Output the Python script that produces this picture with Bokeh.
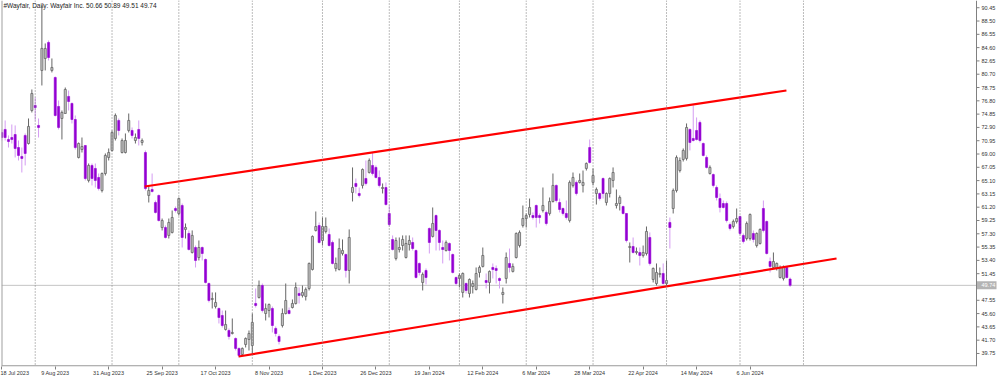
import numpy as np
import pandas as pd
from bokeh.plotting import figure
from bokeh.models import ColumnDataSource, Range1d, FixedTicker, Span, Label
from bokeh.core.properties import value
from bokeh.embed import file_html
from bokeh.resources import INLINE

# ---------------- data ----------------
first_day = "2023-07-18"
market_holidays = ["2023-09-04", "2023-11-23", "2023-12-25", "2024-01-01", "2024-01-15",
                   "2024-02-19", "2024-03-29", "2024-05-27", "2024-06-19", "2024-07-04"]

opens = [72.16, 72.60, 71.13, 71.42, 71.86, 69.95, 68.64, 71.72, 70.54, 75.38,
         76.12, 73.19, 81.25, 83.01, 85.36, 81.25, 80.22, 75.97, 74.21, 74.94,
         77.44, 76.41, 74.06, 68.49, 69.66, 70.25, 65.12, 67.32, 66.88, 65.56,
         63.65, 66.14, 68.49, 69.52, 71.28, 73.92, 69.22, 69.22, 72.45, 72.45,
         70.98, 72.60, 70.69, 69.22, 62.92, 63.80, 61.89, 62.92, 58.22, 58.22,
         57.06, 57.50, 61.01, 60.28, 61.45, 57.94, 57.35, 54.56, 55.29, 53.82,
         55.29, 53.53, 50.01, 47.67, 46.64, 46.35, 45.32, 43.27, 43.12, 42.68,
         41.95, 40.49, 39.61, 41.07, 41.80, 40.92, 47.08, 47.96, 49.72, 45.61,
         46.05, 46.35, 43.42, 42.24, 43.85, 45.61, 46.05, 46.49, 47.08, 48.55,
         48.26, 48.11, 49.28, 52.07, 57.79, 58.52, 56.32, 57.64, 57.20, 56.03,
         52.22, 52.07, 54.41, 54.26, 51.92, 63.36, 64.68, 63.21, 64.39, 65.41,
         66.29, 67.32, 67.03, 65.56, 63.94, 64.09, 60.28, 56.47, 53.68, 55.00,
         55.58, 53.82, 55.73, 56.03, 54.85, 52.95, 50.16, 51.92, 58.08, 56.91,
         59.98, 57.79, 55.29, 54.85, 55.88, 54.26, 50.89, 50.75, 48.70, 50.01,
         48.55, 49.57, 49.14, 51.63, 52.51, 50.45, 50.16, 52.36, 52.22, 50.75,
         48.40, 50.75, 52.95, 51.78, 53.82, 55.58, 58.52, 59.54, 60.13, 59.98,
         61.45, 59.98, 60.72, 60.43, 60.28, 62.04, 64.39, 61.89, 61.01, 60.28,
         59.25, 64.39, 64.83, 64.83, 64.39, 66.88, 69.95, 64.83, 63.21, 63.21,
         65.41, 61.89, 63.21, 65.12, 61.45, 61.74, 61.30, 60.28, 55.29, 55.44,
         54.56, 54.56, 54.12, 54.41, 56.76, 50.60, 50.01, 51.34, 51.48, 50.01,
         58.96, 61.01, 63.65, 66.58, 68.20, 68.35, 72.60, 71.28, 72.45, 73.63,
         70.54, 68.49, 66.14, 65.99, 64.09, 62.47, 61.74, 61.74, 58.66, 58.37,
         59.10, 59.84, 57.06, 56.61, 56.61, 57.35, 55.58, 55.88, 61.01, 59.10,
         53.24, 52.36, 52.22, 50.89, 50.75, 52.36, 50.66]

highs = [72.60, 73.92, 71.72, 73.33, 73.19, 70.98, 69.95, 72.01, 74.21, 78.46,
         77.29, 74.21, 90.78, 85.21, 85.65, 83.01, 80.37, 76.85, 75.38, 78.75,
         78.31, 76.56, 74.65, 70.69, 71.42, 70.25, 67.61, 67.61, 67.61, 66.14,
         66.29, 69.08, 69.81, 72.45, 74.94, 74.21, 71.28, 72.01, 74.94, 72.89,
         72.01, 73.92, 71.28, 69.52, 64.39, 66.14, 62.18, 63.06, 59.54, 58.52,
         59.54, 60.72, 61.30, 62.62, 61.74, 58.81, 57.79, 57.79, 55.58, 56.32,
         55.44, 53.68, 50.16, 48.70, 48.70, 46.49, 46.05, 46.05, 43.42, 44.88,
         42.10, 40.63, 40.63, 42.10, 43.12, 45.61, 49.28, 50.45, 50.01, 47.08,
         47.08, 46.64, 43.71, 42.54, 46.35, 50.01, 46.49, 47.67, 50.16, 49.43,
         49.72, 49.43, 53.09, 57.06, 60.57, 58.96, 59.69, 59.69, 58.08, 56.32,
         53.82, 56.61, 56.47, 54.41, 57.94, 67.03, 65.41, 64.09, 66.88, 68.05,
         68.35, 69.22, 67.32, 66.58, 64.68, 64.83, 61.45, 57.06, 56.76, 56.76,
         57.06, 57.06, 57.06, 56.76, 55.00, 53.09, 51.63, 52.22, 58.22, 61.16,
         60.13, 57.94, 56.32, 56.32, 56.03, 54.41, 51.04, 51.48, 51.63, 50.16,
         50.75, 50.45, 52.36, 52.65, 55.29, 51.48, 51.92, 52.95, 52.65, 50.89,
         49.43, 54.56, 55.14, 52.95, 57.50, 57.79, 61.45, 60.28, 62.47, 60.43,
         61.59, 60.28, 64.09, 60.72, 62.62, 66.14, 64.53, 62.47, 61.16, 62.18,
         65.12, 66.29, 65.12, 66.14, 66.58, 67.76, 71.13, 66.88, 64.09, 63.36,
         65.56, 63.36, 65.56, 67.03, 63.80, 62.92, 61.45, 60.28, 56.03, 56.76,
         55.29, 55.29, 55.58, 58.37, 57.50, 52.36, 52.95, 52.36, 52.95, 53.39,
         59.69, 63.94, 68.79, 68.49, 69.81, 73.48, 72.75, 76.12, 74.36, 73.92,
         70.69, 68.79, 67.32, 66.14, 64.39, 63.21, 62.18, 62.04, 58.96, 59.39,
         61.01, 59.98, 57.35, 59.10, 60.28, 57.79, 57.50, 58.08, 62.18, 59.25,
         53.82, 54.56, 53.09, 52.65, 52.65, 52.51, 50.89]

lows = [70.98, 70.98, 69.95, 70.54, 68.49, 68.05, 66.29, 67.32, 70.39, 75.09,
        73.92, 71.42, 79.05, 81.25, 82.71, 80.96, 74.50, 72.60, 71.13, 74.94,
        75.38, 73.48, 69.66, 68.35, 69.22, 65.12, 64.83, 64.39, 64.09, 63.65,
        63.36, 65.85, 68.05, 69.37, 70.98, 71.72, 69.08, 69.08, 72.16, 71.28,
        70.54, 70.25, 70.25, 63.65, 61.89, 63.36, 60.28, 59.10, 57.79, 56.61,
        56.61, 57.35, 60.43, 59.98, 55.29, 56.61, 54.85, 54.41, 52.36, 53.39,
        53.39, 50.01, 47.23, 46.35, 46.35, 44.15, 43.56, 43.12, 41.80, 42.54,
        40.19, 39.17, 39.46, 40.63, 40.19, 39.75, 46.49, 47.81, 45.76, 44.59,
        45.03, 42.83, 42.24, 41.07, 43.56, 45.47, 45.47, 46.35, 46.93, 47.08,
        47.96, 47.52, 48.99, 51.92, 57.64, 55.88, 55.58, 57.35, 55.44, 52.80,
        51.78, 51.92, 54.12, 50.89, 50.01, 62.04, 63.21, 62.62, 63.94, 64.39,
        66.14, 65.85, 65.41, 64.09, 63.21, 61.45, 58.37, 54.85, 53.39, 54.56,
        54.85, 53.68, 54.85, 54.85, 50.75, 51.19, 48.99, 49.87, 54.41, 56.76,
        54.85, 54.85, 52.95, 54.70, 53.39, 51.48, 49.72, 49.43, 47.96, 48.55,
        47.96, 48.55, 48.99, 50.89, 52.36, 49.28, 48.55, 50.75, 50.01, 49.28,
        47.08, 50.01, 51.63, 51.63, 53.68, 55.29, 58.22, 58.22, 59.69, 59.39,
        58.22, 58.81, 60.43, 58.52, 59.98, 61.89, 61.89, 60.43, 59.98, 59.39,
        58.96, 64.09, 62.92, 64.68, 63.36, 66.58, 67.61, 64.39, 61.59, 62.18,
        62.47, 61.45, 62.62, 64.09, 61.01, 60.72, 60.13, 56.03, 53.09, 54.41,
        54.26, 52.65, 53.82, 54.12, 52.65, 50.16, 49.72, 50.89, 49.87, 49.72,
        55.14, 60.28, 63.36, 66.29, 67.90, 68.05, 69.52, 70.83, 70.98, 70.69,
        68.64, 66.88, 65.99, 64.09, 62.18, 60.43, 61.01, 58.96, 57.79, 58.08,
        58.81, 57.06, 55.88, 56.32, 56.32, 56.03, 55.29, 55.73, 57.50, 54.26,
        51.63, 52.22, 51.92, 50.75, 50.45, 50.75, 49.51]

closes = [71.42, 71.42, 70.83, 71.13, 69.81, 68.79, 68.35, 69.08, 73.04, 77.87,
          75.82, 72.89, 84.48, 84.48, 83.15, 81.69, 74.65, 72.89, 75.09, 78.46,
          76.70, 74.06, 69.95, 70.54, 70.10, 65.41, 67.32, 65.41, 65.12, 63.94,
          66.14, 68.79, 69.22, 72.16, 74.65, 72.45, 70.98, 70.98, 73.92, 71.72,
          71.42, 71.28, 70.98, 63.94, 63.65, 63.51, 60.43, 59.25, 59.25, 56.76,
          58.96, 59.69, 60.72, 62.47, 56.76, 58.22, 55.00, 57.06, 53.39, 55.29,
          54.41, 50.16, 47.52, 47.81, 47.23, 45.03, 43.85, 44.00, 42.24, 42.83,
          40.49, 39.46, 40.49, 41.95, 42.68, 44.30, 46.79, 49.72, 46.05, 46.35,
          46.93, 43.85, 42.68, 41.51, 45.61, 47.52, 45.61, 47.08, 49.43, 48.26,
          48.70, 49.14, 52.95, 56.91, 58.37, 56.03, 58.37, 58.37, 55.58, 52.95,
          52.95, 55.14, 54.85, 51.92, 56.76, 64.09, 64.24, 62.92, 66.73, 64.68,
          68.05, 66.14, 65.56, 64.39, 64.09, 61.59, 58.66, 55.00, 56.32, 55.29,
          56.47, 55.88, 56.32, 55.14, 50.89, 51.63, 51.34, 50.89, 56.03, 58.81,
          57.79, 56.03, 55.00, 56.03, 54.85, 51.63, 50.01, 51.19, 51.48, 48.99,
          50.60, 50.01, 51.48, 52.36, 54.12, 50.16, 51.78, 52.07, 51.92, 50.45,
          48.70, 53.82, 52.36, 52.51, 57.35, 57.50, 59.54, 59.98, 61.16, 59.69,
          59.69, 59.69, 61.45, 58.81, 62.04, 64.39, 62.18, 60.86, 60.28, 59.69,
          64.83, 65.56, 63.21, 65.12, 64.83, 67.61, 67.76, 65.85, 63.80, 62.47,
          63.21, 63.21, 65.41, 66.29, 61.74, 62.62, 60.28, 56.32, 55.44, 54.56,
          54.70, 54.12, 54.56, 57.64, 52.95, 52.22, 51.63, 51.48, 50.01, 50.45,
          58.22, 63.65, 68.49, 68.05, 69.52, 72.89, 70.69, 70.98, 71.13, 70.98,
          68.79, 67.03, 67.03, 64.39, 62.62, 61.16, 61.16, 59.25, 58.08, 59.10,
          59.54, 57.35, 56.18, 58.81, 60.13, 56.47, 57.35, 57.94, 57.79, 54.41,
          52.51, 53.24, 52.95, 52.36, 52.36, 50.89, 49.74]

price_ticks = [39.75, 41.70, 43.65, 45.60, 47.55, 49.50, 51.45, 53.40, 55.35, 57.30,
               59.25, 61.20, 63.15, 65.10, 67.05, 69.00, 70.95, 72.90, 74.85, 76.80,
               78.75, 80.70, 82.65, 84.60, 86.55, 88.50, 90.45]
current_price = 49.74
title_text = "#Wayfair, Daily:  Wayfair Inc.  50.66 50.89 49.51 49.74"

# channel lines (bar index, price) drawn on the chart
upper_channel_x = [42.8, 234.9]
upper_channel_y = [64.24, 78.31]
lower_channel_x = [70.9, 249.9]
lower_channel_y = [39.31, 53.68]

# ---------------- derived ----------------
N = len(opens)
all_days = pd.bdate_range(first_day, periods=N + 30, freq="C", holidays=market_holidays)
dates = all_days[:N]
idx = np.arange(N)
o = np.array(opens); h = np.array(highs); l = np.array(lows); c = np.array(closes)
up = c >= o

def src(mask):
    return ColumnDataSource(dict(x=idx[mask], o=o[mask], h=h[mask], l=l[mask], c=c[mask],
                                 top=np.maximum(o, c)[mask], bottom=np.minimum(o, c)[mask]))

bull_src = src(up)
bear_src = src(~up)

month_starts = [i for i in range(1, len(all_days)) if all_days[i].month != all_days[i - 1].month]
grid_idx = [i for i in month_starts if i < N] + [min(i for i in month_starts if i >= N)]
label_idx = list(range(0, N, 16))
label_text = {i: f"{dates[i].day} {dates[i].strftime('%b %Y')}" for i in label_idx}

FONT = "Liberation Sans"
FS = "5.5px"

# layout: frame spans the full width; chart area ends at the price scale
PX = 3.3403                 # pixels per bar
X0 = -0.09                  # bar index at the left edge
AXIS_X = X0 + 975 / PX      # price-scale line (chart area is 975 px wide)
X1 = X0 + 999 / PX
Y0, Y1 = 37.84, 91.51
PY = 366 / (Y1 - Y0)        # pixels per dollar

p = figure(frame_width=999, frame_height=366,
           x_range=Range1d(X0, X1), y_range=Range1d(Y0, Y1),
           output_backend="svg", toolbar_location=None, y_axis_location=None,
           min_border_left=1, min_border_right=0, min_border_top=0, min_border_bottom=10)
p.outline_line_color = None
p.xgrid.visible = False
p.ygrid.visible = False
p.background_fill_color = "white"
p.border_fill_color = "white"

xa = p.xaxis[0]
xa.ticker = FixedTicker(ticks=label_idx)
xa.major_label_overrides = label_text
xa.minor_tick_line_color = None
xa.major_tick_in = 0
xa.major_tick_out = 3
xa.major_label_standoff = 0
xa.major_label_text_font = FONT
xa.major_label_text_font_size = FS
xa.major_label_text_color = "#333333"
xa.major_label_text_align = "left"
xa.axis_line_color = None
xa.major_tick_line_color = "#808080"

# grid / borders
for gi in grid_idx:
    p.add_layout(Span(location=gi, dimension="height", line_color="#7a7a7a",
                      line_dash="1 2", line_width=1))
p.add_layout(Span(location=X0, dimension="height", line_color="#a0a0a0", line_width=2))
p.segment(x0=[X0], y0=[current_price], x1=[AXIS_X], y1=[current_price],
          line_color="#c4c4c4", line_width=1)

# wicks
p.segment(x0="x", y0="l", x1="x", y1="h", source=bull_src, line_color="#666666", line_width=1)
p.segment(x0="x", y0="l", x1="x", y1="h", source=bear_src, line_color="#d49cf2", line_width=1)
# bodies
p.vbar(x="x", top="top", bottom="bottom", width=0.62, source=bull_src,
       fill_color="#c6c6c6", line_color="#666666", line_width=0.8)
p.vbar(x="x", top="top", bottom="bottom", width=0.62, source=bear_src,
       fill_color="#9400d3", line_color="#9400d3", line_width=0.6)

# channel
p.line(upper_channel_x, upper_channel_y, line_color="#ff0000", line_width=2.2)
p.line(lower_channel_x, lower_channel_y, line_color="#ff0000", line_width=2.2)

# bottom time-scale line and right price scale
p.segment(x0=[X0], y0=[Y0 + 0.6 / PY], x1=[AXIS_X], y1=[Y0 + 0.6 / PY],
          line_color="#808080", line_width=1)
p.segment(x0=[AXIS_X], y0=[Y0], x1=[AXIS_X], y1=[Y1], line_color="#808080", line_width=1)
tick_src = ColumnDataSource(dict(
    y=price_ticks,
    x0=[AXIS_X] * len(price_ticks),
    x1=[AXIS_X + 3 / PX] * len(price_ticks),
    tx=[AXIS_X + 5 / PX] * len(price_ticks),
    label=["" if abs(t - 49.50) < 1e-9 else f"{t:.2f}" for t in price_ticks]))
p.segment(x0="x0", y0="y", x1="x1", y1="y", source=tick_src, line_color="#808080", line_width=1)
p.text(x="tx", y="y", text="label", source=tick_src, text_font=value(FONT),
       text_font_size=value(FS), text_color="#333333", text_baseline="middle", text_align="left")

# current price marker on the scale
p.quad(left=[AXIS_X + 0.5 / PX], right=[AXIS_X + 20 / PX],
       bottom=[current_price - 4 / PY], top=[current_price + 4 / PY],
       fill_color="#b4b4b4", line_color=None)
p.text(x=[AXIS_X + 5 / PX], y=[current_price], text=[f"{current_price:.2f}"],
       text_font=value(FONT), text_font_size=value(FS), text_color="white",
       text_baseline="middle", text_align="left")

p.add_layout(Label(x=2, y=365, x_units="screen", y_units="screen", text=title_text,
                   text_baseline="top", text_font=FONT, text_font_size="6.5px",
                   text_color="#222222"))

open("out.html", "w").write(file_html(p, INLINE))
